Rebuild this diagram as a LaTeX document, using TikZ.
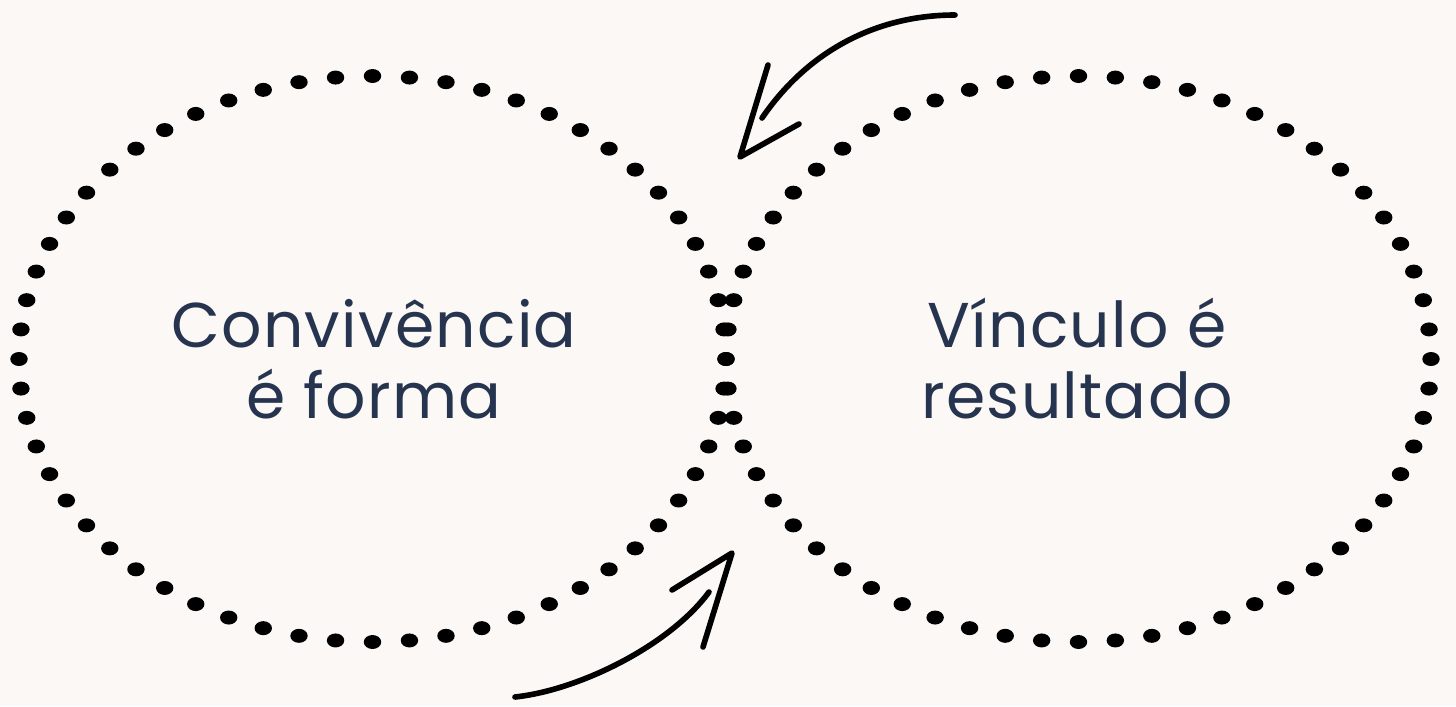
\documentclass[tikz,border=0pt]{standalone}
\usepackage{fontspec}
\setmainfont[LetterSpace=2]{Poppins}
\usetikzlibrary{calc}
\definecolor{paper}{HTML}{FCF8F5}
\definecolor{ink}{HTML}{26344F}
\tikzset{
  dot/.style={black},
  label/.style={text=ink, align=center, font=\fontsize{18}{20.2}\selectfont, inner sep=0pt},
  pen/.style={black, line width=1.6pt, line cap=round, line join=round}
}

\begin{document}
\begin{tikzpicture}[x=0.1mm, y=-0.1mm]
	\useasboundingbox (0,0) rectangle (1456,706);
	\fill[paper] (0,0) rectangle (1456,706);
	% dotted rings
	\foreach \cx/\rx in { 372.5/353.5, 1078.5/352.5 }
		\foreach \a in {0,6,...,354}
			\fill[dot] ({\cx+\rx*cos(\a)}, {359+283*sin(\a)}) ellipse [x radius=0.87mm, y radius=0.7mm];
	% texts
	\node[label, anchor=base] (conv) at (374, 418) {Convivência\\é forma};
	\node[label, anchor=base] (vinc) at (1077, 418) {Vínculo é\\resultado};
	% arrows
	\coordinate (topstart) at (955, 15);
	\coordinate (topend) at (762, 118);
	\coordinate (toptip) at (740, 157);
	\coordinate (botstart) at (515, 697);
	\coordinate (botend) at (709, 592);
	\coordinate (bottip) at (732, 553);
	\draw[pen] (topstart) .. controls (880, 15) and (810, 48) .. (topend);
	\draw[pen] (768, 65) -- (toptip) -- (799, 124);
	\draw[pen] (botstart) .. controls (580, 690) and (670, 645) .. (botend);
	\draw[pen] (672, 590) -- (bottip) -- (703, 647);
\end{tikzpicture}
\end{document}
